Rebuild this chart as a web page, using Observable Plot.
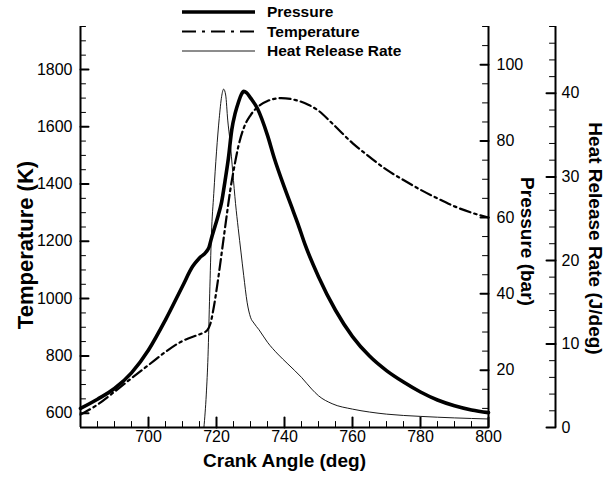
<!DOCTYPE html>
<html><head><meta charset="utf-8">
<script src="https://cdn.jsdelivr.net/npm/d3@7"></script>
<script src="https://cdn.jsdelivr.net/npm/@observablehq/plot@0.6"></script>
<style>
body{margin:0;background:#fff;}
#wrap{position:relative;width:605px;height:480px;font-family:"Liberation Sans",Arial,sans-serif;}
#legend{position:absolute;left:0;top:0;pointer-events:none;}
</style></head><body><div id="wrap"></div>
<script>
// ---- data ----
const seriesNames = ["Pressure", "Temperature", "Heat Release Rate"];

const angleP = [680,685,690,695,700,705,710,713,715,717,717.8,718.5,719.5,720.5,721.5,722.5,723.5,724.5,725.5,726.5,727.3,728,728.8,730,732,735,737,740,742,744,746,750,755,760,765,770,775,780,785,790,795,800];
const pressure = [10.0,12.4,15.2,19.3,25.3,33.2,42.0,47.2,49.4,51.0,52.2,54.5,57.5,60.5,64.0,69.5,75.5,83.0,87.3,90.3,92.2,93.0,92.7,91.3,88.6,81.5,75.5,67.8,63.0,58.2,53.0,44.5,35.7,28.8,23.7,19.9,16.9,14.3,12.2,10.7,9.6,8.9];

const angleT = [680,685,690,695,700,705,710,714,716,717.3,718.2,719.2,720.7,721.7,723,724,725,726.5,728,730,732,735,739,743,747,750,754,760,765,770,775,780,785,790,795,800];
const temperature = [595,630,675,722,768,814,852,871,880,890,912,970,1087,1175,1290,1375,1445,1535,1595,1640,1668,1690,1700,1694,1677,1656,1612,1543,1495,1450,1414,1380,1350,1322,1300,1283];

const angleH = [716.3,717.0,717.5,718.0,718.5,719.2,720.0,720.8,721.5,722.1,722.7,723.3,724.0,724.8,725.6,726.4,727.2,728.0,729.0,730.0,731.0,732.5,735,738,741,745,748,750,754,760,765,770,780,790,800];
const hrr = [0,4,8.5,16,23,28,33,37,39.6,40.5,39.8,36.8,34.2,30.5,26.8,23.8,21,18.2,15,13.2,12.5,11.7,10.2,8.8,7.6,6.0,4.6,3.8,2.85,2.2,1.85,1.6,1.33,1.15,1.02];

const xTicks = [700, 720, 740, 760, 780, 800];
const tempTicks = [600, 800, 1000, 1200, 1400, 1600, 1800];
const pressTicks = [20, 40, 60, 80, 100];
const hrrTicks = [0, 10, 20, 30, 40];

const xDomain = [680, 800];
const tDomain = [550, 1950];
const pDomain = [5, 110];
const hDomain = [0, 48];

// ---- helpers: map secondary axes into temperature units ----
const pT = p => tDomain[0] + (p - pDomain[0]) * (tDomain[1] - tDomain[0]) / (pDomain[1] - pDomain[0]);
const hT = h => tDomain[0] + (h - hDomain[0]) * (tDomain[1] - tDomain[0]) / (hDomain[1] - hDomain[0]);

const pData = angleP.map((a, i) => ({a, v: pT(pressure[i])}));
const tData = angleT.map((a, i) => ({a, v: temperature[i]}));
const hData = angleH.map((a, i) => ({a, v: hT(hrr[i])}));

const xMinor = d3.range(685, 800, 5).filter(v => !xTicks.includes(v));
const tMinor = d3.range(550, 1951, 50).filter(v => !tempTicks.includes(v));
const pMinor = d3.range(5, 111, 5).filter(v => !pressTicks.includes(v));
const hMinor = d3.range(0, 49, 2).filter(v => !hrrTicks.includes(v));

const tickShape = {draw(ctx, l) { ctx.moveTo(0, 0); ctx.lineTo(0, -l); }};
function tickMarks(values, anchor, rotate, len, sw, dx = 0) {
  const horiz = anchor === "bottom";
  return Plot.vector(values, {
    x: horiz ? d => d : undefined,
    y: horiz ? undefined : d => d,
    frameAnchor: anchor, rotate, length: len, anchor: "start",
    shape: tickShape, stroke: "black", strokeWidth: sw, dx
  });
}

const FONT = '"Liberation Sans", Arial, sans-serif';
const HRR_DX = 67;

const chart = Plot.plot({
  width: 605,
  height: 480,
  marginLeft: 80,
  marginRight: 117,
  marginTop: 26,
  marginBottom: 53,
  x: {domain: xDomain, axis: null},
  y: {domain: tDomain, axis: null},
  style: {fontFamily: FONT, fontSize: "16px", color: "black", background: "white"},
  marks: [
    // data lines
    Plot.line(hData, {x: "a", y: "v", stroke: "black", strokeWidth: 0.9, curve: "monotone-x"}),
    Plot.line(tData, {x: "a", y: "v", stroke: "black", strokeWidth: 2.2, strokeDasharray: "11,4,2.5,4", curve: "monotone-x"}),
    Plot.line(pData, {x: "a", y: "v", stroke: "black", strokeWidth: 3.6, curve: "monotone-x"}),

    // axis lines
    Plot.ruleX([xDomain[0]], {stroke: "black", strokeWidth: 2}),
    Plot.ruleX([xDomain[1]], {stroke: "black", strokeWidth: 2}),
    Plot.ruleX([xDomain[1]], {stroke: "black", strokeWidth: 2, dx: HRR_DX}),
    Plot.ruleY([tDomain[0]], {stroke: "black", strokeWidth: 2}),

    // ticks
    tickMarks(xTicks, "bottom", 0, 10, 2),
    tickMarks(xMinor, "bottom", 0, 6, 1),
    tickMarks(tempTicks, "left", 90, 8, 2),
    tickMarks(tMinor, "left", 90, 5, 1),
    tickMarks(pressTicks.map(pT), "right", -90, 8, 2),
    tickMarks(pMinor.map(pT), "right", -90, 6, 1),
    tickMarks(hrrTicks.map(hT), "right", -90, 9, 2, HRR_DX),
    tickMarks(hMinor.map(hT), "right", -90, 6, 1, HRR_DX),

    // tick labels
    Plot.text(xTicks, {x: d => d, text: d => String(d), frameAnchor: "bottom", lineAnchor: "top", dy: 3, fontSize: 16, fill: "black"}),
    Plot.text(tempTicks, {y: d => d, text: d => String(d), frameAnchor: "left", textAnchor: "end", dx: -8, fontSize: 16, fill: "black"}),
    Plot.text(pressTicks, {y: d => pT(d), text: d => String(d), frameAnchor: "right", textAnchor: "start", dx: 8, fontSize: 16, fill: "black"}),
    Plot.text(hrrTicks, {y: d => hT(d), text: d => String(d), frameAnchor: "right", textAnchor: "start", dx: HRR_DX + 6, fontSize: 16, fill: "black"}),

    // axis titles
    Plot.text(["Crank Angle (deg)"], {text: d => d, frameAnchor: "bottom", textAnchor: "middle", dy: 39, fontSize: 19, fontWeight: "bold", fill: "black"}),
    Plot.text(["Temperature (K)"], {text: d => d, frameAnchor: "left", textAnchor: "middle", dx: -55, dy: 18, rotate: -90, fontSize: 22, fontWeight: "bold", fill: "black", letterSpacing: 0.6}),
    Plot.text(["Pressure (bar)"], {text: d => d, frameAnchor: "right", textAnchor: "middle", dx: 39, dy: 14.5, rotate: 90, fontSize: 19, fontWeight: "bold", fill: "black"}),
    Plot.text(["Heat Release Rate (J/deg)"], {text: d => d, frameAnchor: "right", textAnchor: "middle", dx: 107, dy: 11.5, rotate: 90, fontSize: 19, fontWeight: "bold", fill: "black"})
  ]
});

const wrap = document.getElementById("wrap");
wrap.appendChild(chart);

// ---- legend overlay ----
const legendStyles = [
  {sw: 3.6, dash: null},
  {sw: 2.2, dash: "14,6,3,6"},
  {sw: 0.9, dash: null}
];
const legend = d3.select(wrap).append("svg")
  .attr("id", "legend").attr("width", 605).attr("height", 62);
const rows = legend.selectAll("g").data(seriesNames).join("g")
  .attr("transform", (d, i) => `translate(0,${12 + i * 19.5})`);
rows.append("line")
  .attr("x1", 182).attr("x2", 255).attr("y1", 0).attr("y2", 0)
  .attr("stroke", "black")
  .attr("stroke-width", (d, i) => legendStyles[i].sw)
  .attr("stroke-dasharray", (d, i) => legendStyles[i].dash);
rows.append("text")
  .attr("x", 267).attr("y", 0).attr("dy", "0.35em")
  .attr("font-family", FONT).attr("font-size", 15.5).attr("font-weight", "bold")
  .text(d => d);
</script></body></html>
